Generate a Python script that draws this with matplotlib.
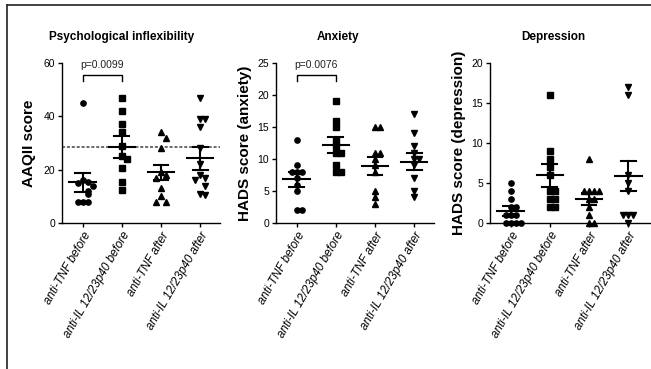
import numpy as np
import matplotlib
matplotlib.use("Agg")
import matplotlib.pyplot as plt
from matplotlib.lines import Line2D

plt.rcParams['font.family'] = ['Liberation Sans', 'DejaVu Sans']

groups = ["anti-TNF before", "anti-IL 12/23p40 before", "anti-TNF after", "anti-IL 12/23p40 after"]
markers = ['o', 's', '^', 'v']

# Psychological inflexibility (AAQII score)
aaq_tnf_before = [45, 16, 15.5, 15, 14, 12, 11, 8, 8, 8]
aaq_il_before = [47, 42, 37, 34, 29, 25, 24, 20.5, 15.5, 12.5]
aaq_tnf_after = [34, 32, 28, 19, 18, 17, 13, 10, 8, 8]
aaq_il_after = [47, 39, 39, 36, 28, 22, 18, 17, 16, 14, 11, 10.5]
aaq_mean = [15.3, 28.5, 19.0, 24.3]
aaq_sem = [3.6, 4.0, 2.7, 4.3]
aaq_cutoff = 28.6

# HADS anxiety
anx_tnf_before = [13, 9, 8, 8, 8, 7, 6, 5, 2, 2]
anx_il_before = [19, 16, 15, 13, 12, 11, 11, 9, 8, 8]
anx_tnf_after = [15, 15, 11, 11, 10, 9, 8, 5, 4, 3]
anx_il_after = [17, 14, 12, 11, 10, 10, 9, 7, 5, 4]
anx_mean = [6.8, 12.2, 8.9, 9.6]
anx_sem = [1.2, 1.2, 1.4, 1.35]

# HADS depression
dep_tnf_before = [5, 4, 3, 2, 2, 1, 1, 1, 0, 0, 0, 0]
dep_il_before = [16, 9, 8, 7, 6, 4, 4, 3, 3, 2, 2]
dep_tnf_after = [8, 4, 4, 4, 4, 3, 3, 2, 1, 0, 0]
dep_il_after = [17, 16, 6, 5, 4, 1, 1, 1, 0]
dep_mean = [1.5, 5.95, 3.0, 5.85]
dep_sem = [0.65, 1.45, 0.8, 1.9]

panels = [
    dict(title="Psychological inflexibility", ylabel="AAQII score",
         data=[aaq_tnf_before, aaq_il_before, aaq_tnf_after, aaq_il_after],
         mean=aaq_mean, sem=aaq_sem, ymax=60, yticks=[0, 20, 40, 60],
         p="p=0.0099", left=62, width=158, title_x=122, ylab_x=36),
    dict(title="Anxiety", ylabel="HADS score (anxiety)",
         data=[anx_tnf_before, anx_il_before, anx_tnf_after, anx_il_after],
         mean=anx_mean, sem=anx_sem, ymax=25, yticks=[0, 5, 10, 15, 20, 25],
         p="p=0.0076", left=276, width=158, title_x=338, ylab_x=252),
    dict(title="Depression", ylabel="HADS score (depression)",
         data=[dep_tnf_before, dep_il_before, dep_tnf_after, dep_il_after],
         mean=dep_mean, sem=dep_sem, ymax=20, yticks=[0, 5, 10, 15, 20],
         p=None, left=490, width=161, title_x=553, ylab_x=466),
]


def spread(vals, tol, step=0.13):
    # simple horizontal spreading of points with similar values
    offs, seen = [], []
    for v in vals:
        n = sum(abs(v - s) < tol for s in seen)
        k = (n + 1) // 2 * (1 if n % 2 else -1)
        offs.append(k * step)
        seen.append(v)
    return np.array(offs)


W, H = 651, 369
fig = plt.figure(figsize=(W / 100, H / 100), dpi=100)

for pn in panels:
    ax = fig.add_axes([pn['left'] / W, (H - 223) / H, pn['width'] / W, 160 / H])
    tol = pn['ymax'] * 0.035
    for i, vals in enumerate(pn['data']):
        vals = np.array(vals, dtype=float)
        x = i + spread(vals, tol)
        ax.plot(x, vals, linestyle='none', marker=markers[i], color='black',
                markersize=3.8, clip_on=False, zorder=3)
        m, s = pn['mean'][i], pn['sem'][i]
        ax.plot([i - 0.34, i + 0.34], [m, m], color='black', lw=1.5, zorder=4)
        ax.plot([i, i], [m - s, m + s], color='black', lw=1.5, zorder=4)
        for yy in (m - s, m + s):
            ax.plot([i - 0.19, i + 0.19], [yy, yy], color='black', lw=1.5, zorder=4)

    if pn['title'] == "Psychological inflexibility":
        ax.axhline(aaq_cutoff, color='#444444', lw=1.1, ls=(0, (2, 1.2)), zorder=2)

    if pn['p']:
        ym = pn['ymax']
        y1, y0 = ym * 0.925, ym * 0.89
        ax.plot([0, 0, 1, 1], [y0, y1, y1, y0], color='black', lw=1.0, clip_on=False)
        ax.text(0.5, ym * 0.955, pn['p'], ha='center', va='bottom', fontsize=7.5,
                color='#222222')

    ax.set_xlim(-0.53, 3 + (pn['width'] - 138) / 39.5)
    ax.set_ylim(0, pn['ymax'])
    ax.set_yticks(pn['yticks'])
    ax.set_xticks(range(4))
    ax.set_xticklabels(groups, rotation=60, ha='right', rotation_mode='anchor',
                       style='italic', fontsize=8.5)
    ax.tick_params(axis='both', direction='out', length=3, width=1, labelsize=7.5,
                   color='black', pad=2)
    ax.tick_params(axis='x', labelsize=8.5)
    for sp in ('top', 'right'):
        ax.spines[sp].set_visible(False)
    for sp in ('left', 'bottom'):
        ax.spines[sp].set_linewidth(1.0)
    ax.set_ylabel(pn['ylabel'], fontweight='bold', fontsize=11)
    ax.yaxis.set_label_coords((pn['ylab_x'] - pn['left']) / pn['width'], 0.5)
    fig.text(pn['title_x'] / W, 1 - 37 / H, pn['title'], ha='center', va='center',
             fontsize=8.5, fontweight='bold')

# frame lines at the left and top edge
fig.add_artist(Line2D([6.5 / W, 6.5 / W], [0, 1 - 4.5 / H], transform=fig.transFigure,
                      color='#222222', lw=1.2))
fig.add_artist(Line2D([6.5 / W, 1], [1 - 4.5 / H, 1 - 4.5 / H], transform=fig.transFigure,
                      color='#222222', lw=1.2))

fig.savefig("out.png", dpi=100, facecolor='white')
